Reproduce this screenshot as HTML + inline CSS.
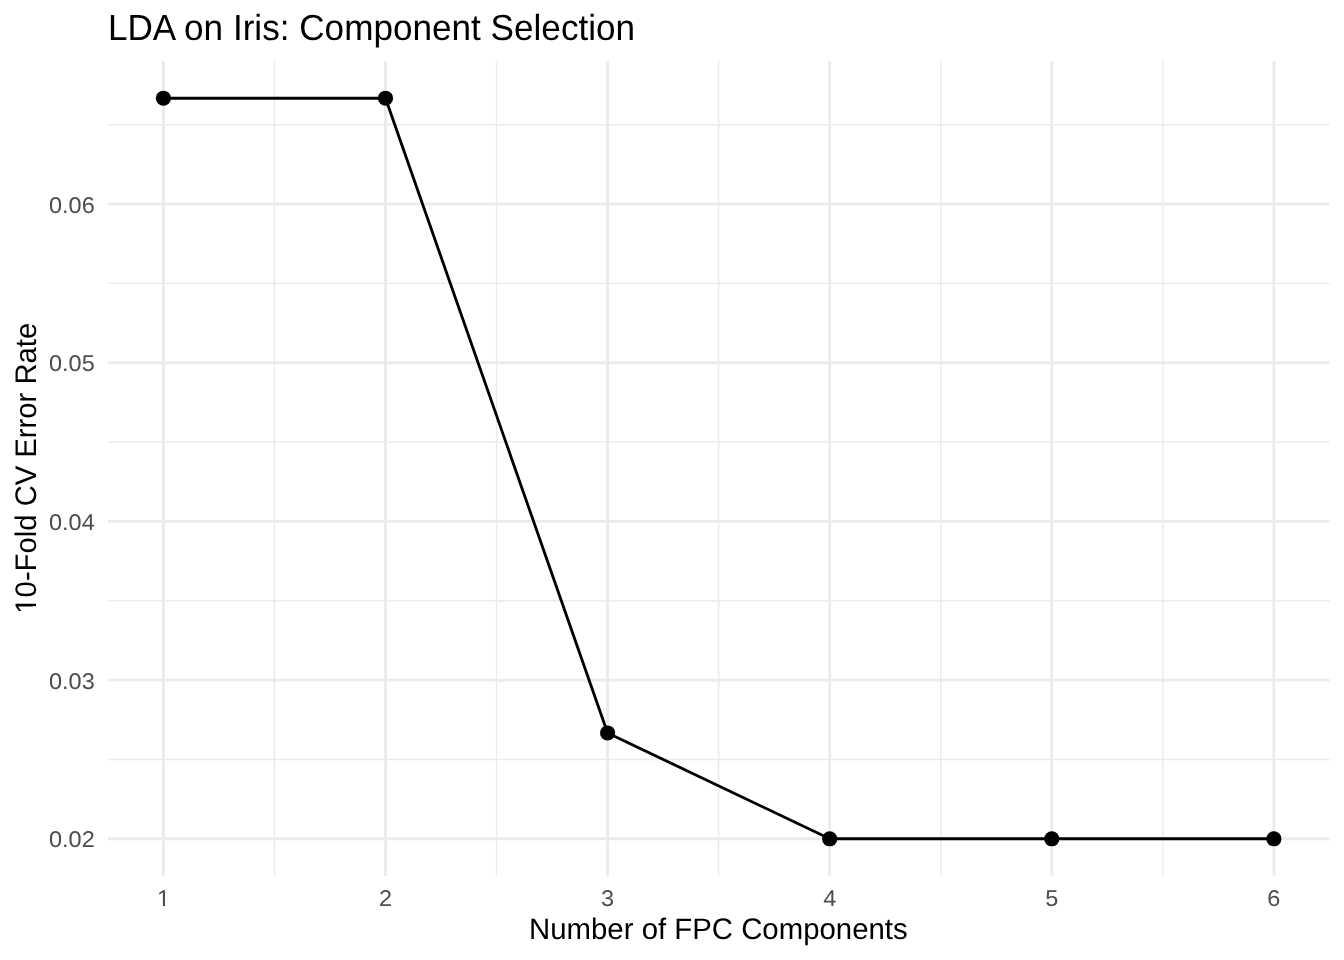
<!DOCTYPE html>
<html lang="en">
<head>
<meta charset="utf-8">
<title>LDA on Iris: Component Selection</title>
<style>
html,body{margin:0;padding:0;background:#fff;}
body{width:1344px;height:960px;overflow:hidden;}
svg{display:block;}
text{font-family:"Liberation Sans",Arial,Helvetica,sans-serif;}
.tick{font-size:23.47px;fill:#4d4d4d;text-rendering:geometricPrecision;}
.axt{font-size:29.33px;fill:#000;text-rendering:geometricPrecision;}
.ttl{font-size:35.2px;fill:#000;text-rendering:geometricPrecision;}
.gmin{stroke:#ebebeb;stroke-width:1.42;fill:none;}
.gmaj{stroke:#ebebeb;stroke-width:2.85;fill:none;}
</style>
</head>
<body>
<svg width="1344" height="960" viewBox="0 0 1344 960">
<rect x="0" y="0" width="1344" height="960" fill="#ffffff"/>

<g class="gmin">
<line x1="107.9" x2="1329.4" y1="759.43" y2="759.43"/>
<line x1="107.9" x2="1329.4" y1="600.74" y2="600.74"/>
<line x1="107.9" x2="1329.4" y1="442.05" y2="442.05"/>
<line x1="107.9" x2="1329.4" y1="283.36" y2="283.36"/>
<line x1="107.9" x2="1329.4" y1="124.68" y2="124.68"/>
<line y1="61.2" y2="875.8" x1="274.47" x2="274.47"/>
<line y1="61.2" y2="875.8" x1="496.56" x2="496.56"/>
<line y1="61.2" y2="875.8" x1="718.65" x2="718.65"/>
<line y1="61.2" y2="875.8" x1="940.74" x2="940.74"/>
<line y1="61.2" y2="875.8" x1="1162.83" x2="1162.83"/>
</g>
<g class="gmaj">
<line x1="107.9" x2="1329.4" y1="838.77" y2="838.77"/>
<line x1="107.9" x2="1329.4" y1="680.08" y2="680.08"/>
<line x1="107.9" x2="1329.4" y1="521.40" y2="521.40"/>
<line x1="107.9" x2="1329.4" y1="362.71" y2="362.71"/>
<line x1="107.9" x2="1329.4" y1="204.02" y2="204.02"/>
<line y1="61.2" y2="875.8" x1="163.42" x2="163.42"/>
<line y1="61.2" y2="875.8" x1="385.51" x2="385.51"/>
<line y1="61.2" y2="875.8" x1="607.60" x2="607.60"/>
<line y1="61.2" y2="875.8" x1="829.70" x2="829.70"/>
<line y1="61.2" y2="875.8" x1="1051.79" x2="1051.79"/>
<line y1="61.2" y2="875.8" x1="1273.88" x2="1273.88"/>
</g>
<polyline points="163.42,98.23 385.51,98.23 607.60,732.98 829.70,838.77 1051.79,838.77 1273.88,838.77" fill="none" stroke="#000" stroke-width="2.85" stroke-linejoin="round" stroke-linecap="butt"/>
<circle cx="163.42" cy="98.23" r="7.6" fill="#000"/>
<circle cx="385.51" cy="98.23" r="7.6" fill="#000"/>
<circle cx="607.60" cy="732.98" r="7.6" fill="#000"/>
<circle cx="829.70" cy="838.77" r="7.6" fill="#000"/>
<circle cx="1051.79" cy="838.77" r="7.6" fill="#000"/>
<circle cx="1273.88" cy="838.77" r="7.6" fill="#000"/>
<text class="tick" text-anchor="end" transform="translate(94.7,847) scale(1,0.975)">0.02</text>
<text class="tick" text-anchor="end" transform="translate(94.7,689) scale(1,0.975)">0.03</text>
<text class="tick" text-anchor="end" transform="translate(94.7,530) scale(1,0.975)">0.04</text>
<text class="tick" text-anchor="end" transform="translate(94.7,371) scale(1,0.975)">0.05</text>
<text class="tick" text-anchor="end" transform="translate(94.7,213) scale(1,0.975)">0.06</text>
<text class="tick" text-anchor="middle" transform="translate(163.42,906) scale(1,0.975)">1</text>
<text class="tick" text-anchor="middle" transform="translate(385.51,906) scale(1,0.975)">2</text>
<text class="tick" text-anchor="middle" transform="translate(607.60,906) scale(1,0.975)">3</text>
<text class="tick" text-anchor="middle" transform="translate(829.70,906) scale(1,0.975)">4</text>
<text class="tick" text-anchor="middle" transform="translate(1051.79,906) scale(1,0.975)">5</text>
<text class="tick" text-anchor="middle" transform="translate(1273.88,906) scale(1,0.975)">6</text>
<text class="axt" text-anchor="middle" transform="translate(718.35,939) scale(1.0012,1.01)">Number of FPC Components</text>
<text class="axt" text-anchor="middle" transform="translate(36.2,468.20) rotate(-90) scale(0.997,1.015)">10-Fold CV Error Rate</text>
<text class="ttl" transform="translate(107.9,40) scale(0.9983,1.03)">LDA on Iris: Component Selection</text>
<g fill="#ffffff">
<rect x="157" y="903.4" width="6.0" height="4"/>
<rect x="165.05" y="903.4" width="6.0" height="4"/>
<rect x="33.0" y="597.5" width="4.2" height="6.2"/>
<rect x="33.0" y="606.1" width="4.2" height="7"/>
</g>
</svg>
</body>
</html>
